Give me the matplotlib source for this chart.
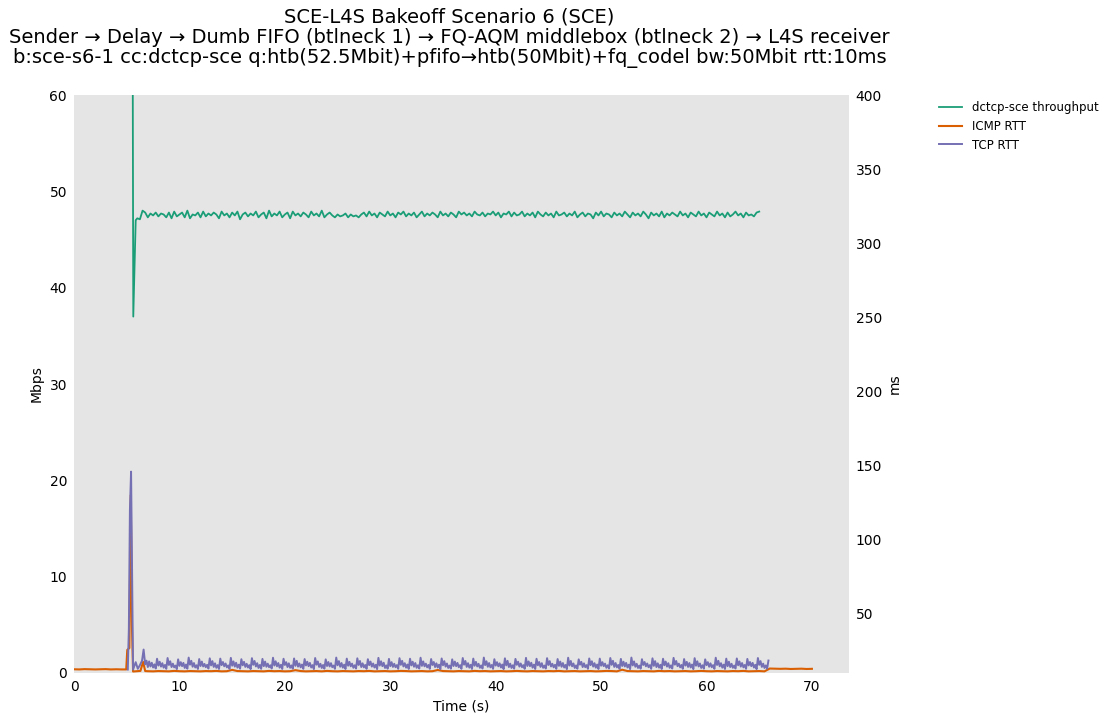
import numpy as np
import matplotlib
matplotlib.use("Agg")
import matplotlib.pyplot as plt

# throughput (Mbps), dctcp-sce flow
tput_head_t = [5.5, 5.62, 5.85, 6.0]
tput_head = [96.0, 37.0, 47.0, 47.2]
tput_body = [
    47.1, 48.0, 47.8, 47.3, 47.7, 47.5, 47.8, 47.4, 47.7, 47.6, 47.3, 47.8,
    47.2, 47.9, 47.4, 47.6, 47.8, 47.3, 48.0, 47.2, 47.6, 47.5, 47.8, 47.3,
    47.9, 47.4, 47.7, 47.5, 47.8, 47.6, 47.2, 47.9, 47.5, 47.7, 47.3, 47.8,
    47.5, 47.9, 47.1, 47.6, 47.8, 47.4, 47.7, 47.5, 47.9, 47.3, 47.6, 47.8,
    47.2, 48.0, 47.4, 47.7, 47.5, 47.9, 47.3, 47.6, 47.8, 47.2, 47.9, 47.5,
    47.7, 47.4, 47.8, 47.6, 47.3, 47.9, 47.5, 47.7, 47.4, 48.0, 47.3, 47.6,
    47.8, 47.5, 47.3, 47.6, 47.4, 47.5, 47.7, 47.3, 47.6, 47.4, 47.5, 47.3,
    47.6, 47.8, 47.4, 47.9, 47.5, 47.7, 47.3, 47.8, 47.6, 47.4, 47.9, 47.5,
    47.7, 47.3, 47.8, 47.6, 47.9, 47.4, 47.7, 47.5, 47.8, 47.3, 47.6, 47.9,
    47.4, 47.7, 47.5, 47.8, 47.6, 47.3, 47.9, 47.5, 47.7, 47.4, 47.8, 47.6,
    47.3, 47.9, 47.6, 47.8, 47.5, 47.7, 47.4, 47.9, 47.6, 47.5, 47.8, 47.4,
    47.7, 47.6, 47.9, 47.5, 47.8, 47.3, 47.7, 47.6, 47.9, 47.4, 47.8, 47.5,
    47.6, 47.9, 47.4, 47.7, 47.5, 47.8, 47.3, 47.9, 47.6, 47.4, 47.8, 47.5,
    47.7, 47.3, 47.9, 47.5, 47.6, 47.8, 47.4, 47.7, 47.5, 47.9, 47.3, 47.6,
    47.8, 47.4, 47.7, 47.6, 47.2, 47.8, 47.5, 47.9, 47.4, 47.7, 47.6, 47.3,
    47.8, 47.5, 47.7, 47.4, 47.9, 47.6, 47.3, 47.8, 47.5, 47.7, 47.4, 47.9,
    47.6, 47.2, 47.8, 47.5, 47.7, 47.4, 47.9, 47.3, 47.7, 47.5, 47.8, 47.6,
    47.4, 47.9, 47.5, 47.7, 47.3, 47.8, 47.6, 47.4, 47.9, 47.5, 47.7, 47.3,
    47.8, 47.6, 47.4, 47.9, 47.5, 47.7, 47.3, 47.8, 47.4, 47.6, 47.9, 47.5,
    47.7, 47.3, 47.8, 47.5, 47.6, 47.4, 47.8, 47.9,
]

# ICMP ping RTT (ms)
icmp_pre = [12.7, 12.6, 12.8, 12.7, 12.6, 12.7, 12.8, 12.6, 12.7, 12.6]
icmp_spike_t = [4.95, 5.05, 5.25, 5.38, 5.5, 5.6, 6.0, 6.3, 6.55, 6.75]
icmp_spike = [12.6, 25.8, 27.0, 130.0, 40.0, 11.2, 11.4, 11.6, 17.7, 11.5]
icmp_flow = [
    11.4, 11.3, 11.5, 11.4, 11.3, 11.6, 11.4, 11.3, 11.5, 11.4,
    11.3, 11.5, 11.4, 11.6, 11.3, 11.4, 12.3, 11.5, 11.4, 11.3,
    11.5, 11.4, 11.3, 11.6, 11.4, 11.5, 11.3, 11.4, 12.1, 11.5,
    11.3, 11.4, 11.5, 11.3, 11.6, 11.4, 11.3, 11.5, 11.4, 11.3,
    11.5, 11.4, 11.6, 11.3, 11.4, 11.5, 11.3, 11.4, 11.6, 11.5,
    11.3, 11.4, 11.5, 11.3, 11.4, 12.2, 11.5, 11.4, 11.3, 11.5,
    11.4, 11.3, 11.6, 11.4, 11.5, 11.3, 11.4, 11.5, 11.3, 11.4,
    11.6, 11.4, 11.3, 11.5, 11.4, 11.3, 11.5, 11.4, 11.6, 11.3,
    11.4, 11.5, 11.3, 11.4, 11.5, 11.3, 11.4, 11.6, 11.5, 11.3,
    12.4, 11.5, 11.4, 11.3, 11.5, 11.4, 11.3, 11.6, 11.4, 11.5,
    11.3, 11.4, 11.5, 11.3, 11.4, 11.6, 11.4, 11.3, 11.5, 11.4,
    11.3, 11.5, 11.4, 11.6, 11.3, 11.4, 11.5, 11.3,
]
icmp_post = [13.2, 13.1, 13.0, 13.1, 12.9, 13.0, 13.1, 12.9, 13.0]

# TCP RTT (ms)
tcp_head_t = [5.1, 5.2, 5.3, 5.41, 5.5, 5.6, 5.85, 6.05, 6.25, 6.45, 6.6, 6.75, 6.875]
tcp_head = [12.5, 40.0, 120.0, 146.0, 80.0, 12.5, 17.5, 13.0, 15.5, 18.5, 26.0, 16.0, 18.5]
tcp_body = [
    14.2, 18.0, 14.6, 17.1, 13.9, 16.0, 13.2, 19.8, 15.2, 17.8, 14.5, 16.8, 13.8, 15.6, 13.0, 20.3,
    15.6, 18.1, 14.2, 16.5, 14.0, 15.2, 12.8, 19.4, 15.0, 17.5, 14.8, 17.0, 13.6, 15.9, 13.1, 20.6,
    15.8, 18.4, 14.4, 16.9, 13.9, 15.4, 12.9, 19.6, 14.9, 17.9, 14.6, 16.3, 14.1, 15.7, 13.2, 20.1,
    15.3, 18.2, 14.3, 16.7, 13.7, 15.5, 12.9, 19.9, 15.5, 17.6, 14.7, 16.6, 14.0, 15.3, 13.0, 20.4,
    15.1, 18.0, 14.5, 17.1, 13.8, 15.8, 13.1, 19.5, 15.4, 17.7, 14.3, 16.4, 13.9, 15.5, 12.8, 20.2,
    15.7, 18.3, 14.6, 16.8, 13.6, 15.6, 13.0, 19.7, 14.8, 17.9, 14.4, 16.5, 14.1, 15.4, 13.2, 20.5,
    15.2, 18.1, 14.7, 16.9, 13.8, 15.7, 12.9, 19.8, 15.6, 17.5, 14.2, 16.7, 13.7, 15.3, 13.1, 20.0,
    15.0, 18.4, 14.5, 16.6, 14.0, 15.9, 13.0, 19.6, 15.3, 17.8, 14.8, 17.0, 13.9, 15.5, 12.8, 20.3,
    15.8, 18.0, 14.3, 16.4, 13.6, 15.6, 13.1, 19.4, 14.9, 17.6, 14.6, 16.8, 14.1, 15.2, 13.0, 20.6,
    15.4, 18.2, 14.4, 16.9, 13.8, 15.8, 12.9, 19.9, 15.1, 17.7, 14.7, 16.5, 13.7, 15.4, 13.2, 20.1,
    15.6, 18.3, 14.2, 16.7, 14.0, 15.6, 13.0, 19.5, 15.5, 17.9, 14.5, 16.6, 13.9, 15.7, 12.8, 20.4,
    15.2, 18.1, 14.8, 17.1, 13.6, 15.3, 13.1, 19.7, 14.8, 17.5, 14.3, 16.4, 14.1, 15.5, 13.0, 20.2,
    15.7, 18.4, 14.6, 16.8, 13.8, 15.9, 12.9, 19.8, 15.3, 17.8, 14.4, 16.9, 13.7, 15.4, 13.2, 20.5,
    15.0, 18.0, 14.7, 16.5, 14.0, 15.6, 13.0, 19.6, 15.6, 17.6, 14.2, 16.7, 13.9, 15.8, 12.8, 20.0,
    15.4, 18.2, 14.5, 16.6, 13.6, 15.2, 13.1, 19.4, 14.9, 17.9, 14.8, 17.0, 14.1, 15.5, 13.0, 20.3,
    15.8, 18.3, 14.3, 16.8, 13.8, 15.7, 12.9, 19.9, 15.1, 17.7, 14.6, 16.4, 13.7, 15.3, 13.2, 20.6,
    15.5, 18.1, 14.4, 16.9, 14.0, 15.6, 13.0, 19.5, 15.2, 17.5, 14.7, 16.7, 13.9, 15.9, 12.8, 20.1,
    15.3, 18.4, 14.2, 16.5, 13.6, 15.4, 13.1, 19.7, 15.7, 17.8, 14.5, 16.6, 14.1, 15.5, 13.0, 20.4,
    14.9, 18.0, 14.8, 17.1, 13.8, 15.8, 12.9, 19.8, 15.4, 17.6, 14.3, 16.8, 13.7, 15.2, 13.2, 20.2,
    15.6, 18.2, 14.6, 16.4, 14.0, 15.7, 13.0, 19.6, 15.0, 17.9, 14.4, 16.9, 13.9, 15.6, 12.8, 20.5,
    15.2, 18.3, 14.7, 16.6, 13.6, 15.3, 13.1, 19.4, 15.8, 17.7, 14.2, 16.7, 14.1, 15.5, 13.0, 20.0,
    15.5, 18.1, 14.5, 16.8, 13.8, 15.9, 12.9, 19.9, 15.1, 17.5, 14.8, 16.5, 13.7, 15.4, 13.2, 20.3,
    15.7, 18.4, 14.3, 16.9, 14.0, 15.6, 13.0, 19.7, 14.9, 17.8, 14.6, 17.0, 13.9, 15.8, 12.8, 20.6,
    15.3, 18.0, 14.4, 16.4, 13.6, 15.2, 13.1, 19.5, 15.6, 17.6, 14.7, 16.6, 14.1, 15.5, 13.0, 20.1,
    15.0, 18.2, 14.2, 16.7, 13.8, 15.7, 12.9, 19.8, 15.4, 17.9, 14.5, 16.8, 13.7, 15.3, 13.2, 20.4,
    15.8, 18.3, 14.8, 16.5, 14.0, 15.6, 13.0, 19.6, 15.2, 17.7, 14.3, 16.9, 13.9, 15.9, 12.8, 20.2,
    15.1, 18.1, 14.6, 16.6, 13.6, 15.4, 13.1, 19.4, 15.5, 17.5, 14.4, 16.7, 14.1, 15.5, 13.0, 20.5,
    15.6, 18.4, 14.7, 16.8, 13.8, 15.8, 12.9, 19.9, 14.8, 17.8, 14.2, 16.4, 13.7, 15.2, 13.2, 20.0,
    15.4, 18.0, 14.5, 16.9, 14.0, 15.6, 13.0, 19.7, 15.3, 17.6, 14.8, 17.0, 13.9, 15.7, 12.8, 20.3,
    15.7, 18.2, 14.3, 16.5, 13.6, 15.3, 13.1, 18.6,
]

tput_time = np.concatenate([tput_head_t, 6.25 + 0.25 * np.arange(len(tput_body))])
tput = np.concatenate([tput_head, tput_body])
icmp_time = np.concatenate([0.5 * np.arange(len(icmp_pre)), icmp_spike_t,
                            7.0 + 0.5 * np.arange(len(icmp_flow)),
                            66.0 + 0.5 * np.arange(len(icmp_post))])
icmp = np.concatenate([icmp_pre, icmp_spike, icmp_flow, icmp_post])
tcp_time = np.concatenate([tcp_head_t, 7.0 + 0.125 * np.arange(len(tcp_body))])
tcp = np.concatenate([tcp_head, tcp_body])

c_tput = "#1b9e77"
c_icmp = "#d95f02"
c_tcp = "#7570b3"

fig = plt.figure(figsize=(11.1, 7.21), dpi=100)
ax = fig.add_axes([0.0667, 0.0666, 0.698, 0.8016])
ax2 = ax.twinx()

l1, = ax.plot(tput_time, tput, color=c_tput, lw=1.3, label="dctcp-sce throughput")
l2, = ax2.plot(icmp_time, icmp, color=c_icmp, lw=1.5, label="ICMP RTT")
l3, = ax2.plot(tcp_time, tcp, color=c_tcp, lw=1.4, label="TCP RTT")

ax.set_facecolor("#e5e5e5")
ax.set_xlim(0, 73.5)
ax.set_ylim(0, 60)
ax2.set_ylim(10.2, 400)
ax.set_xticks([0, 10, 20, 30, 40, 50, 60, 70])
ax.set_yticks([0, 10, 20, 30, 40, 50, 60])
ax2.set_yticks([50, 100, 150, 200, 250, 300, 350, 400])
for a in (ax, ax2):
    for s in a.spines.values():
        s.set_visible(False)
    a.tick_params(length=0, labelsize=10, pad=5)

ax.set_xlabel("Time (s)", fontsize=10)
ax.set_ylabel("Mbps", fontsize=10)
ax2.set_ylabel("ms", fontsize=10)

fig.suptitle("SCE-L4S Bakeoff Scenario 6 (SCE)\n"
             "Sender \u2192 Delay \u2192 Dumb FIFO (btlneck 1) \u2192 FQ-AQM middlebox (btlneck 2) \u2192 L4S receiver\n"
             "b:sce-s6-1 cc:dctcp-sce q:htb(52.5Mbit)+pfifo\u2192htb(50Mbit)+fq_codel bw:50Mbit rtt:10ms",
             x=0.405, y=0.99, fontsize=14, linespacing=1.1)

fig.legend(handles=[l1, l2, l3], loc="upper left", bbox_to_anchor=(0.836, 0.875),
           frameon=False, fontsize=8.5, handlelength=2.0)

fig.savefig("out.png")
